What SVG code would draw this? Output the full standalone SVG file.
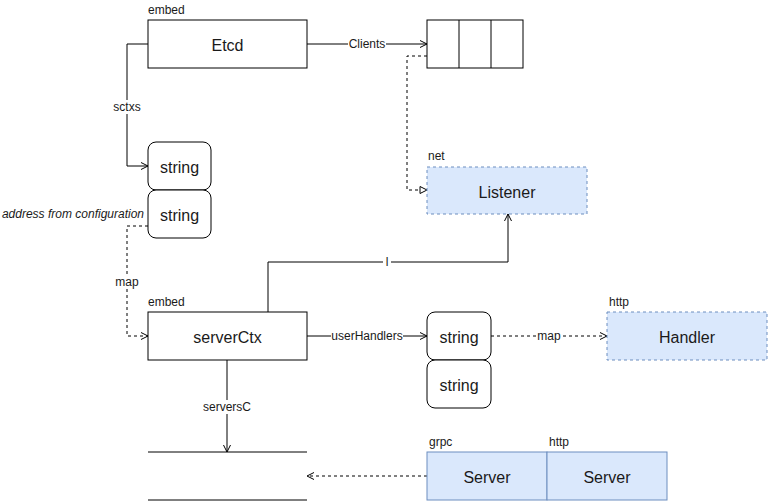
<svg xmlns="http://www.w3.org/2000/svg" width="768" height="501" viewBox="0 0 768 501">
<defs>
<marker id="open" markerUnits="userSpaceOnUse" markerWidth="10" markerHeight="10" viewBox="0 0 10 10" refX="9" refY="5" orient="auto">
<path d="M2,1.5 L9,5 L2,8.5" fill="none" stroke="#000" stroke-width="1"/>
</marker>
<marker id="tri" markerUnits="userSpaceOnUse" markerWidth="10" markerHeight="10" viewBox="0 0 10 10" refX="9" refY="5" orient="auto">
<path d="M2,1.5 L9,5 L2,8.5 Z" fill="#fff" stroke="#000" stroke-width="1"/>
</marker>
</defs>
<style>
.box{fill:#fff;stroke:#000;stroke-width:1}
.blue{fill:#dae8fc;stroke:#6c8ebf;stroke-width:1}
.dash{stroke-dasharray:3 3}
.big{font-family:"Liberation Sans",Arial,sans-serif;font-size:16px;fill:#1a1a1a;text-anchor:middle}
.sm{font-family:"Liberation Sans",Arial,sans-serif;font-size:12px;fill:#1a1a1a}
.mid{text-anchor:middle}
.e{fill:none;stroke:#000;stroke-width:1}
.lb{fill:#fff;stroke:none}
</style>
<rect width="768" height="501" fill="#fff"/>

<g id="connectors">
<path class="e" d="M307,44 L427,44" marker-end="url(#open)"/>
<path class="e dash" d="M427,56 L407,56 L407,190 L427,190" marker-end="url(#tri)"/>
<path class="e" d="M148,44 L127,44 L127,166 L148,166" marker-end="url(#open)"/>
<path class="e dash" d="M148,226 L127,226 L127,336 L148,336" marker-end="url(#open)"/>
<path class="e" d="M268,312 L268,262 L508,262 L508,214" marker-end="url(#open)"/>
<path class="e" d="M307,336 L427,336" marker-end="url(#open)"/>
<path class="e dash" d="M491,336 L607,336" marker-end="url(#open)"/>
<path class="e" d="M227,360 L227,452" marker-end="url(#open)"/>
<path class="e dash" d="M427,476 L307,476" marker-end="url(#open)"/>
<rect class="lb" x="348" y="37" width="38" height="14"/>
<text class="sm mid" x="367" y="48">Clients</text>
<rect class="lb" x="112" y="100" width="30" height="14"/>
<text class="sm mid" x="127" y="111">sctxs</text>
<rect class="lb" x="115" y="275" width="24" height="14"/>
<text class="sm mid" x="127" y="286">map</text>
<rect class="lb" x="383" y="255" width="8" height="14"/>
<text class="sm mid" x="387" y="266">l</text>
<rect class="lb" x="331" y="329" width="72" height="14"/>
<text class="sm mid" x="367" y="340">userHandlers</text>
<rect class="lb" x="537" y="329" width="25" height="14"/>
<text class="sm mid" x="549" y="340">map</text>
<rect class="lb" x="202" y="400" width="50" height="14"/>
<text class="sm mid" x="227" y="411">serversC</text>
</g>

<g id="etcd">
<text class="sm" x="148" y="14">embed</text>
<rect class="box" x="148" y="20" width="159" height="48"/>
<text class="big" x="227.5" y="51">Etcd</text>
</g>

<g id="clients-array">
<rect class="box" x="427" y="20" width="96" height="48"/>
<line class="e" x1="459" y1="20" x2="459" y2="68"/>
<line class="e" x1="491" y1="20" x2="491" y2="68"/>
</g>

<g id="listener">
<text class="sm" x="428" y="160">net</text>
<rect class="blue dash" x="427" y="167" width="160" height="47"/>
<text class="big" x="507" y="197.5">Listener</text>
</g>

<g id="sctxs-strings">
<rect class="box" x="148" y="142" width="63" height="48" rx="8"/>
<text class="big" x="179.5" y="173">string</text>
<rect class="box" x="148" y="190" width="63" height="48" rx="8"/>
<text class="big" x="179.5" y="221">string</text>
</g>

<g id="address-label">
<text class="sm" x="144" y="218" text-anchor="end" font-style="italic">address from configuration</text>
</g>

<g id="serverctx">
<text class="sm" x="148" y="306">embed</text>
<rect class="box" x="148" y="312" width="159" height="48"/>
<text class="big" x="227.5" y="343">serverCtx</text>
</g>

<g id="handler-strings">
<rect class="box" x="427" y="312" width="64" height="48" rx="8"/>
<text class="big" x="459" y="343">string</text>
<rect class="box" x="427" y="360" width="64" height="48" rx="8"/>
<text class="big" x="459" y="391">string</text>
</g>

<g id="handler">
<text class="sm" x="609" y="306">http</text>
<rect class="blue dash" x="607" y="312" width="160" height="48"/>
<text class="big" x="687" y="343">Handler</text>
</g>

<g id="servers-list">
<line class="e" x1="148" y1="452" x2="307" y2="452"/>
<line class="e" x1="148" y1="500" x2="307" y2="500"/>
</g>

<g id="servers">
<text class="sm" x="429" y="446">grpc</text>
<text class="sm" x="549" y="446">http</text>
<rect class="blue" x="427" y="452" width="120" height="48"/>
<rect class="blue" x="547" y="452" width="120" height="48"/>
<text class="big" x="487" y="483">Server</text>
<text class="big" x="607" y="483">Server</text>
</g>
</svg>
